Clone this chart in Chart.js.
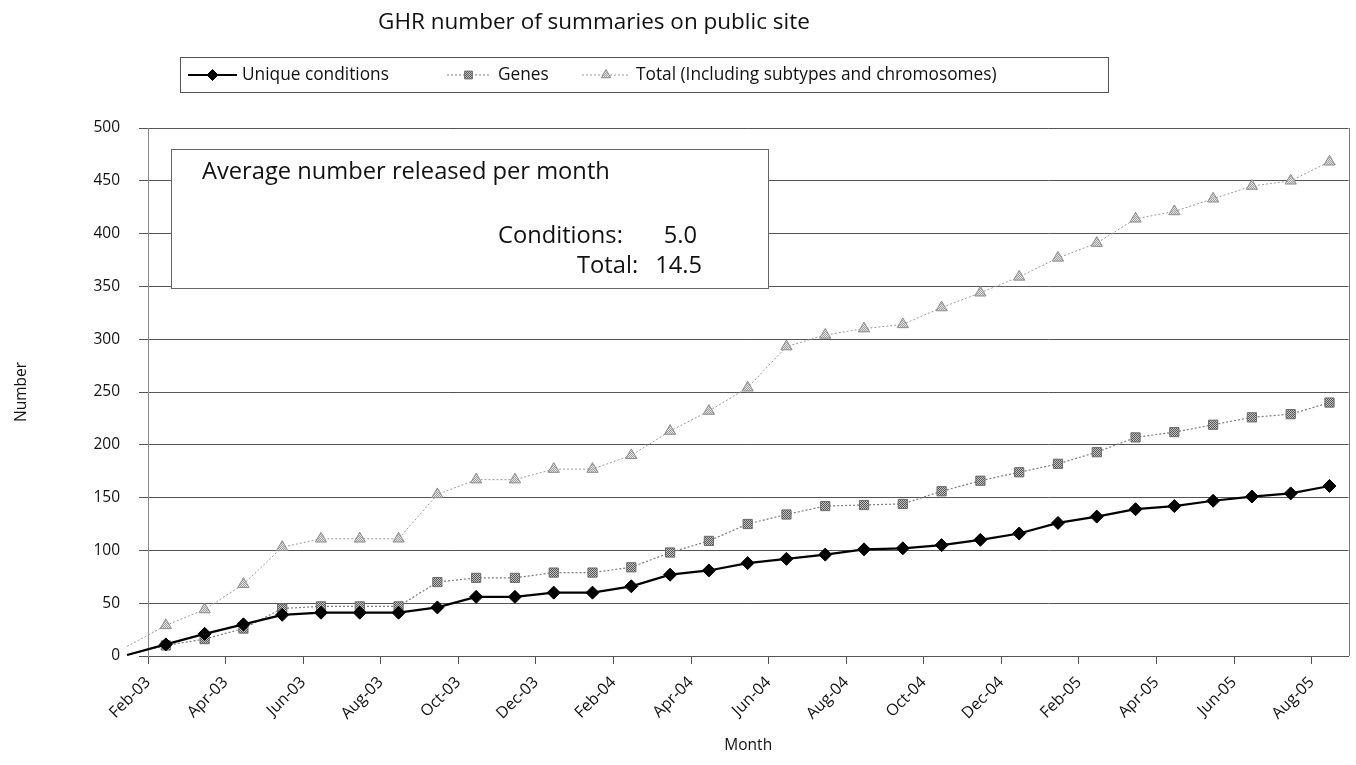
<!DOCTYPE html>
<html>
<head>
<meta charset="utf-8">
<title>GHR number of summaries on public site</title>
<script src="https://cdn.jsdelivr.net/npm/chart.js@4.4.1/dist/chart.umd.min.js"></script>
<style>
  html, body { margin: 0; padding: 0; background: #ffffff; }
  #wrap { width: 1356px; height: 765px; }
</style>
</head>
<body>
<div id="wrap"><canvas id="chart" width="1356" height="765"></canvas></div>
<script>
// DATA
const months = [
    'Feb-03', 'Mar-03', 'Apr-03', 'May-03', 'Jun-03', 'Jul-03', 'Aug-03', 'Sep-03', 'Oct-03', 'Nov-03', 'Dec-03',
    'Jan-04', 'Feb-04', 'Mar-04', 'Apr-04', 'May-04', 'Jun-04', 'Jul-04', 'Aug-04', 'Sep-04', 'Oct-04', 'Nov-04', 'Dec-04',
    'Jan-05', 'Feb-05', 'Mar-05', 'Apr-05', 'May-05', 'Jun-05', 'Jul-05', 'Aug-05', 'Sep-05'
];
const uniqueConditions = [1, 11, 21, 30, 39, 41, 41, 41, 46, 56, 56, 60, 60, 66, 77, 81, 88, 92, 96, 101,
    102, 105, 110, 116, 126, 132, 139, 142, 147, 151, 154, 161];
const genes = [1, 10, 16, 26, 45, 47, 47, 47, 70, 74, 74, 79, 79, 84, 98, 109, 125, 134, 142, 143,
    144, 156, 166, 174, 182, 193, 207, 212, 219, 226, 229, 240];
const totalSummaries = [9, 29, 44, 68, 103, 111, 111, 111, 153, 167, 167, 177, 177, 190, 213, 232, 254, 293, 304, 310,
    314, 330, 344, 359, 377, 391, 414, 421, 433, 445, 450, 468];
const yTicks = [0, 50, 100, 150, 200, 250, 300, 350, 400, 450, 500];
const seriesNames = ['Unique conditions', 'Genes', 'Total (Including subtypes and chromosomes)'];
const chartTitle = 'GHR number of summaries on public site';
const noteTitle = 'Average number released per month';
const noteRows = [['Conditions:', '5.0'], ['Total:', '14.5']];

const FONT = "'Open Sans', 'Noto Sans', sans-serif";
const TICK_SHIFT = 0.54; // excel puts the month ticks a bit right of the points

// small checkered fill like the scanned markers
const makePattern = (dark, light) => {
    const c = document.createElement('canvas');
    c.width = 2;
    c.height = 2;
    const g = c.getContext('2d');
    g.fillStyle = light;
    g.fillRect(0, 0, 2, 2);
    g.fillStyle = dark;
    g.fillRect(0, 0, 1, 1);
    g.fillRect(1, 1, 1, 1);
    return g.createPattern(c, 'repeat');
};

const toPoints = values => values.map((v, i) => ({ x: i, y: v }));
const hideFirst = size => ctx => (ctx.dataIndex === 0 ? 0 : size);

const datasets = [
    {
        label: seriesNames[0],
        data: toPoints(uniqueConditions),
        borderColor: '#000000',
        backgroundColor: '#000000',
        borderWidth: 2.2,
        pointStyle: 'rectRot',
        pointRadius: hideFirst(6.5),
        pointBorderWidth: 1,
        pointBorderColor: '#000000',
        pointBackgroundColor: '#000000',
        order: 1
    },
    {
        label: seriesNames[1],
        data: toPoints(genes),
        borderColor: '#7a7a7a',
        backgroundColor: '#8a8a8a',
        borderWidth: 1.2,
        borderDash: [2, 2],
        pointStyle: 'rect',
        pointRadius: hideFirst(6.5),
        pointBorderWidth: 1,
        pointBorderColor: '#6a6a6a',
        pointBackgroundColor: makePattern('#555555', '#c4c4c4'),
        order: 2
    },
    {
        label: seriesNames[2],
        data: toPoints(totalSummaries),
        borderColor: '#9a9a9a',
        backgroundColor: '#cfcfcf',
        borderWidth: 1,
        borderDash: [2, 2],
        pointStyle: 'triangle',
        pointRadius: hideFirst(6.5),
        pointBorderWidth: 1,
        pointBorderColor: '#8c8c8c',
        pointBackgroundColor: makePattern('#9c9c9c', '#e6e6e6'),
        order: 3
    }
];
datasets.forEach(ds => {
    ds.clip = false;
    ds.tension = 0;
    ds.fill = false;
});

// title, legend box, right frame and the note box
const decorPlugin = {
    id: 'decor',
    afterDraw(chart) {
        const ctx = chart.ctx;
        const area = chart.chartArea;
        ctx.save();

        // right frame line of the plot
        ctx.strokeStyle = '#7a7a7a';
        ctx.lineWidth = 1;
        ctx.beginPath();
        ctx.moveTo(Math.round(area.right) + 0.5, area.top);
        ctx.lineTo(Math.round(area.right) + 0.5, area.bottom);
        ctx.stroke();

        // title
        ctx.fillStyle = '#111111';
        ctx.font = `22.5px ${FONT}`;
        ctx.textAlign = 'center';
        ctx.textBaseline = 'middle';
        ctx.fillText(chartTitle, 594, 23);

        // legend
        ctx.fillStyle = '#ffffff';
        ctx.fillRect(180.5, 57.5, 928, 35);
        ctx.strokeStyle = '#555555';
        ctx.strokeRect(180.5, 57.5, 928, 35);
        const legendSpots = [
            { x0: 188, x1: 237, text: 242 },
            { x0: 447, x1: 490, text: 498 },
            { x0: 582, x1: 630, text: 636 }
        ];
        const ly = 75;
        chart.data.datasets.forEach((ds, i) => {
            const spot = legendSpots[i];
            ctx.save();
            ctx.strokeStyle = ds.borderColor;
            ctx.lineWidth = ds.borderWidth;
            ctx.setLineDash(ds.borderDash || []);
            ctx.beginPath();
            ctx.moveTo(spot.x0, ly);
            ctx.lineTo(spot.x1, ly);
            ctx.stroke();
            ctx.setLineDash([]);
            ctx.fillStyle = ds.pointBackgroundColor;
            ctx.strokeStyle = ds.pointBorderColor;
            ctx.lineWidth = ds.pointBorderWidth;
            Chart.helpers.drawPoint(ctx, {
                pointStyle: ds.pointStyle,
                radius: 5.5,
                rotation: 0,
                borderWidth: ds.pointBorderWidth
            }, (spot.x0 + spot.x1) / 2, ly);
            ctx.restore();
            ctx.fillStyle = '#111111';
            ctx.font = `17.3px ${FONT}`;
            ctx.textAlign = 'left';
            ctx.textBaseline = 'middle';
            ctx.fillText(ds.label, spot.text, ly);
        });

        // note box
        ctx.fillStyle = '#ffffff';
        ctx.fillRect(171.5, 149.5, 597, 139);
        ctx.strokeStyle = '#666666';
        ctx.strokeRect(171.5, 149.5, 597, 139);
        ctx.fillStyle = '#111111';
        ctx.font = `23.7px ${FONT}`;
        ctx.textAlign = 'left';
        ctx.textBaseline = 'middle';
        ctx.fillText(noteTitle, 202, 172);
        ctx.fillText(noteRows[0][0], 498, 236);
        ctx.fillText(noteRows[1][0], 577, 266);
        ctx.textAlign = 'right';
        ctx.fillText(noteRows[0][1], 697, 236);
        ctx.fillText(noteRows[1][1], 702, 266);

        ctx.restore();
    }
};

document.addEventListener('DOMContentLoaded', () => {
    const ctx = document.getElementById('chart').getContext('2d');

    new Chart(ctx, {
        type: 'line',
        data: { datasets: datasets },
        plugins: [decorPlugin],
        options: {
            responsive: false,
            animation: false,
            devicePixelRatio: 1,
            layout: { padding: { left: 0, right: 4, top: 128, bottom: 0 } },
            scales: {
                x: {
                    type: 'linear',
                    min: TICK_SHIFT,
                    max: 31.49,
                    afterBuildTicks: scale => {
                        const ticks = [];
                        for (let i = 0; i < months.length; i += 2) {
                            ticks.push({ value: i + TICK_SHIFT });
                        }
                        scale.ticks = ticks;
                    },
                    afterFit: scale => { scale.height = 109; },
                    grid: { drawOnChartArea: false, drawTicks: true, tickLength: 8, color: '#555555' },
                    border: { display: true, color: '#555555', width: 1 },
                    ticks: {
                        autoSkip: false,
                        minRotation: 45,
                        maxRotation: 45,
                        padding: 9,
                        color: '#111111',
                        font: { family: FONT, size: 16 },
                        callback: (value, index) => months[index * 2]
                    },
                    title: {
                        display: true,
                        text: 'Month',
                        color: '#111111',
                        font: { family: FONT, size: 15.5 },
                        padding: { top: 4, bottom: 10 }
                    }
                },
                y: {
                    type: 'linear',
                    min: 0,
                    max: 500,
                    afterBuildTicks: scale => {
                        scale.ticks = yTicks.map(v => ({ value: v }));
                    },
                    afterFit: scale => { scale.width = 148; },
                    grid: { color: '#555555', lineWidth: 1, tickLength: 9, drawTicks: true },
                    border: { display: true, color: '#888888', width: 1 },
                    ticks: {
                        padding: 19,
                        color: '#111111',
                        font: { family: FONT, size: 15.5 }
                    },
                    title: {
                        display: true,
                        text: 'Number',
                        color: '#111111',
                        font: { family: FONT, size: 15.5 },
                        padding: { top: 12, bottom: 10 }
                    }
                }
            },
            plugins: {
                legend: { display: false },
                title: { display: false },
                tooltip: { enabled: false }
            }
        }
    });
});
</script>
</body>
</html>
